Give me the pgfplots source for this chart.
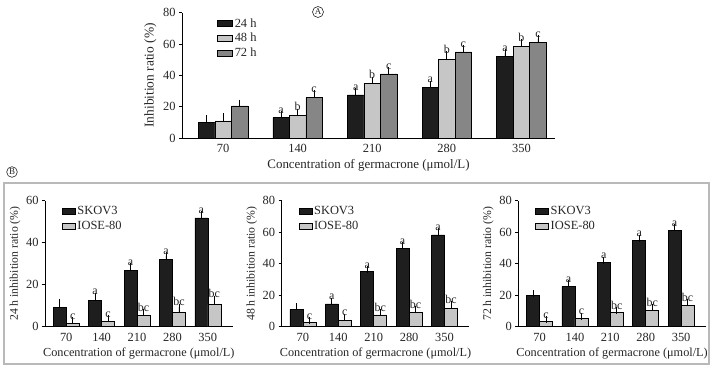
\documentclass[border=0pt]{standalone}
\usepackage{pgfplots}
\pgfplotsset{compat=1.18}
\usepackage{fontspec}
\setmainfont{Liberation Serif}
\definecolor{cDark}{HTML}{1E1E1E}
\definecolor{cLight}{HTML}{C6C6C6}
\definecolor{cMid}{HTML}{868686}
\definecolor{txt}{HTML}{262626}
\pgfplotsset{
  base/.style={scale only axis, axis x line*=bottom, axis y line*=left,
    axis line style={black, line width=0.8bp, -},
    ytick style={black, line width=0.7bp}, major tick length=3bp, tick align=outside,
    xtick style={draw=none}, ymin=0, xtick={0,...,4}, xticklabels={70,140,210,280,350},
    /pgf/number format/assume math mode=true,
    tick label style={font=\fontsize{12.5}{13}\selectfont, text=txt},
    legend cell align=left,
    legend style={draw=none, fill=none, font=\fontsize{12.5}{13}\selectfont, text=txt, inner sep=0pt, row sep=0.5bp}},
  lbl/.style={nodes near coords, point meta=explicit symbolic,
    visualization depends on={\thisrow{e}\as\err},
    every node near coord/.append style={font=\fontsize{12}{12}\selectfont, text=txt, inner sep=1bp, yshift=\err*#1}},
  eb/.style={error bars/.cd, y dir=plus, y explicit,
    error bar style={black, line width=0.7bp},
    error mark options={black, line width=0.7bp, mark size=3.5bp}},
  lgA/.style={legend image code/.code={\draw[fill=#1, draw=black, line width=0.5bp] (0bp,-3bp) rectangle (15bp,3bp);}},
  lgB/.style={legend image code/.code={\draw[fill=#1, draw=black, line width=0.5bp] (0bp,-3bp) rectangle (13bp,3bp);}},
  labB/.style={
    every axis y label/.style={at={(axis description cs:-0.16,0.5)}, rotate=90, anchor=center, font=\fontsize{11.8}{12}\selectfont, text=txt},
    every axis x label/.style={at={(axis description cs:0.5,-0.21)}, anchor=center, font=\fontsize{12.3}{13}\selectfont, text=txt},
    xlabel={Concentration of germacrone (μmol/L)},
    legend style={at={(0.089,0.97)}, anchor=north west}},
}
\begin{document}
\begin{tikzpicture}
\useasboundingbox (0bp,0bp) rectangle (712bp,368bp);
% ---------------- Panel A ----------------
\begin{axis}[base, at={(182bp,230bp)}, anchor=south west,
  width=373bp, height=125.3bp, xmin=-0.55, xmax=4.45, ymax=80,
  ytick={0,20,40,60,80},
  ylabel={Inhibition ratio (\%)},
  xlabel={Concentration of germacrone (μmol/L)},
  every axis y label/.style={at={(axis description cs:-0.085,0.5)}, rotate=90, anchor=center, font=\fontsize{13.5}{14}\selectfont, text=txt},
  every axis x label/.style={at={(axis description cs:0.5,-0.215)}, anchor=center, font=\fontsize{13}{14}\selectfont, text=txt},
  legend style={at={(0.094,0.97)}, anchor=north west}]
\addplot[ybar, bar width=16.5bp, bar shift=0bp, fill=cDark, draw=black, line width=0.5bp, lgA=cDark, lbl=1.566bp, eb]
 table[x expr=\thisrow{x}-0.2212, y=y, y error=e, meta=l] {
x y e l
0 10 2.3 {}
1 13 1.8 a
2 27.5 2 a
3 32.5 1.8 a
4 52 2.3 a
};
\addlegendentry{24 h}
\addplot[ybar, bar width=16.5bp, bar shift=0bp, fill=cLight, draw=black, line width=0.5bp, lgA=cLight, lbl=1.566bp, eb]
 table[x=x, y=y, y error=e, meta=l] {
x y e l
0 11 2.5 {}
1 14.5 2 b
2 35 2 b
3 50 3 b
4 58.5 2.5 b
};
\addlegendentry{48 h}
\addplot[ybar, bar width=16.5bp, bar shift=0bp, fill=cMid, draw=black, line width=0.5bp, lgA=cMid, lbl=1.566bp, eb]
 table[x expr=\thisrow{x}+0.2212, y=y, y error=e, meta=l] {
x y e l
0 20.5 1.8 {}
1 26 2.2 c
2 41 1.8 c
3 55 2 c
4 61 2.3 c
};
\addlegendentry{72 h}
\end{axis}
\node[draw=txt, circle, inner sep=0.8bp, line width=0.6bp, font=\fontsize{9}{9}\selectfont, text=txt] at (318bp,356bp) {A};
% ---------------- Panel B frame ----------------
\draw[gray!55, line width=1.6bp] (4bp,4bp) rectangle (709bp,185bp);
\node[draw=txt, circle, inner sep=0.8bp, line width=0.6bp, font=\fontsize{9}{9}\selectfont, text=txt, fill=white] at (12bp,196bp) {B};
% ---- B1: 24 h ----
\begin{axis}[base, labB, at={(45bp,41.3bp)}, anchor=south west,
  width=187.6bp, height=126bp, xmin=-0.6, xmax=4.7, ymax=60,
  ytick={0,20,40,60},
  ylabel={24 h inhibition ratio (\%)}]
\addplot[ybar, bar width=13bp, bar shift=0bp, fill=cDark, draw=black, line width=0.5bp, lgB=cDark, lbl=2.1bp, eb]
 table[x expr=\thisrow{x}-0.1836, y=y, y error=e, meta=l] {
x y e l
0 9.3 2.3 {}
1 12.5 2 a
2 26.7 2 a
3 32 1.8 a
4 51.8 1.5 a
};
\addlegendentry{SKOV3}
\addplot[ybar, bar width=13bp, bar shift=0bp, fill=cLight, draw=black, line width=0.5bp, lgB=cLight, lbl=2.1bp, eb]
 table[x expr=\thisrow{x}+0.1836, y=y, y error=e, meta=l] {
x y e l
0 1.7 1.2 c
1 2.4 1.3 c
2 5.3 1.5 bc
3 6.8 2.5 bc
4 10.6 2.5 bc
};
\addlegendentry{IOSE-80}
\end{axis}
% ---- B2: 48 h ----
\begin{axis}[base, labB, at={(281.7bp,41.3bp)}, anchor=south west,
  width=187.6bp, height=126bp, xmin=-0.6, xmax=4.7, ymax=80,
  ytick={0,20,40,60,80},
  ylabel={48 h inhibition ratio (\%)}]
\addplot[ybar, bar width=13bp, bar shift=0bp, fill=cDark, draw=black, line width=0.5bp, lgB=cDark, lbl=1.575bp, eb]
 table[x expr=\thisrow{x}-0.1836, y=y, y error=e, meta=l] {
x y e l
0 11 1.8 {}
1 14.5 1.8 a
2 35 1.3 a
3 49.5 1.8 a
4 58.3 2 a
};
\addlegendentry{SKOV3}
\addplot[ybar, bar width=13bp, bar shift=0bp, fill=cLight, draw=black, line width=0.5bp, lgB=cLight, lbl=1.575bp, eb]
 table[x expr=\thisrow{x}+0.1836, y=y, y error=e, meta=l] {
x y e l
0 2.8 1.2 c
1 4 2 c
2 7.5 1.5 bc
3 9 2 bc
4 11.8 2 bc
};
\addlegendentry{IOSE-80}
\end{axis}
% ---- B3: 72 h ----
\begin{axis}[base, labB, at={(518.3bp,41.3bp)}, anchor=south west,
  width=187.6bp, height=126bp, xmin=-0.6, xmax=4.7, ymax=80,
  ytick={0,20,40,60,80},
  ylabel={72 h inhibition ratio (\%)}]
\addplot[ybar, bar width=13bp, bar shift=0bp, fill=cDark, draw=black, line width=0.5bp, lgB=cDark, lbl=1.575bp, eb]
 table[x expr=\thisrow{x}-0.1836, y=y, y error=e, meta=l] {
x y e l
0 19.8 1.2 {}
1 25.5 2 a
2 41 1.3 a
3 55 1.3 a
4 61.2 1.5 a
};
\addlegendentry{SKOV3}
\addplot[ybar, bar width=13bp, bar shift=0bp, fill=cLight, draw=black, line width=0.5bp, lgB=cLight, lbl=1.575bp, eb]
 table[x expr=\thisrow{x}+0.1836, y=y, y error=e, meta=l] {
x y e l
0 3.4 1 c
1 5.3 1.3 c
2 9 1.3 bc
3 10.6 1.5 bc
4 13.7 1.5 bc
};
\addlegendentry{IOSE-80}
\end{axis}
\end{tikzpicture}
\end{document}
